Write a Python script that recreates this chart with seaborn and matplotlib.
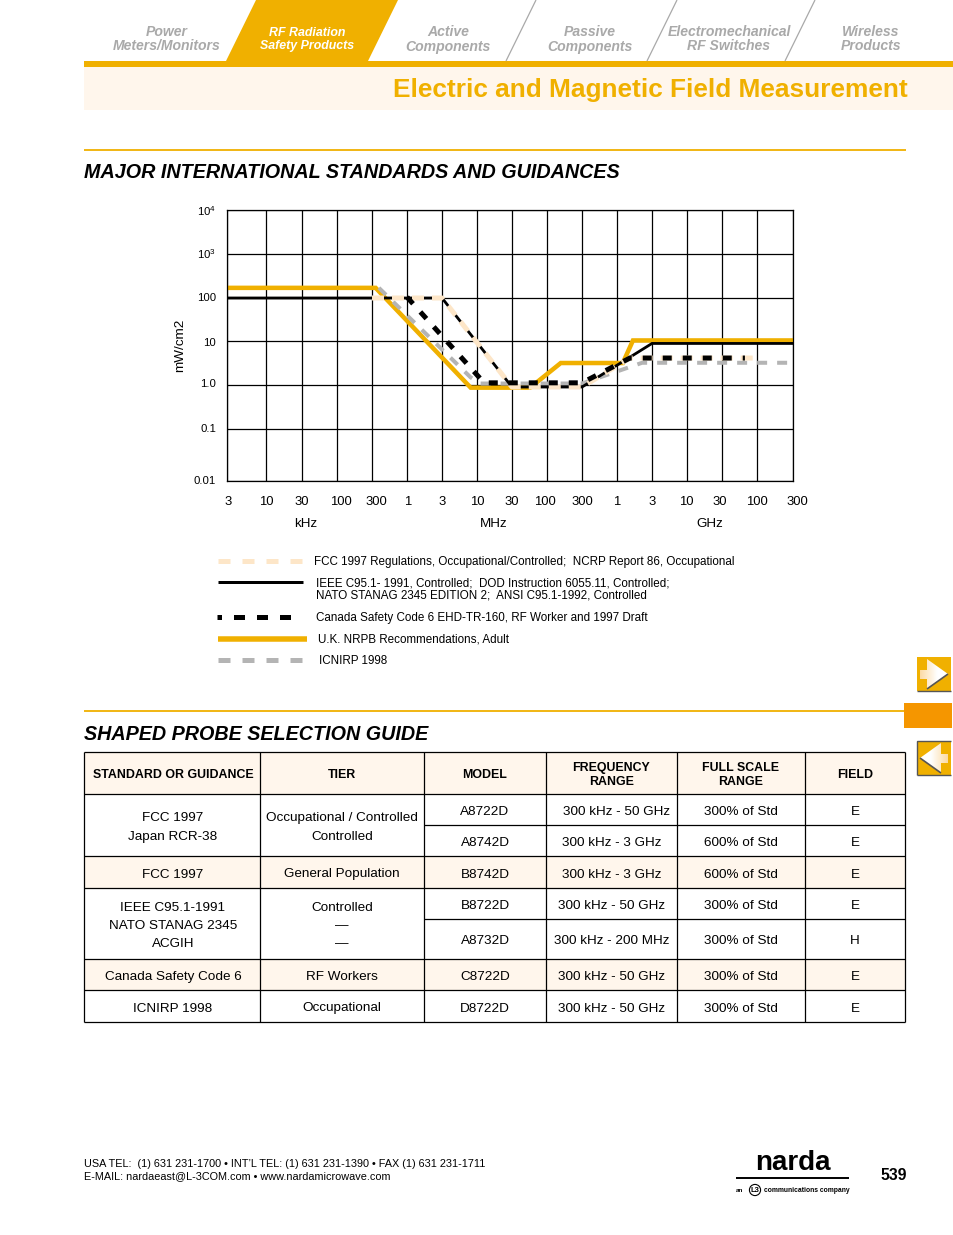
import numpy as np
import pandas as pd
import matplotlib
matplotlib.use("Agg")
import matplotlib.pyplot as plt
from matplotlib.patches import Polygon, Rectangle
from matplotlib.transforms import ScaledTranslation
import seaborn as sns

sns.set_theme(style="white")
plt.rcParams["font.family"] = ["Liberation Sans", "DejaVu Sans"]
plt.rcParams["mathtext.fontset"] = "custom"
plt.rcParams["mathtext.rm"] = "Liberation Sans"
plt.rcParams["lines.solid_capstyle"] = "butt"
plt.rcParams["lines.solid_joinstyle"] = "miter"

ORANGE = "#f0b000"
CREAM = "#fff6ec"
GREY = "#b4b4b4"
BEIGE = "#fde6c8"
TAB_GREY = "#a9a9a9"

# frequencies in kHz, limits in mW/cm2
freq_ticks = [3, 10, 30, 100, 300, 1e3, 3e3, 1e4, 3e4, 1e5, 3e5, 1e6, 3e6, 1e7, 3e7, 1e8, 3e8]
freq_labels = ["3", "10", "30", "100", "300", "1", "3", "10", "30", "100", "300", "1", "3", "10", "30", "100", "300"]
freq_label_shift = [1, 0, 0, 4, 4, 1, 0, 0, 0, -2, 0, 0, 0, -1, -2, 0, 4]
power_ticks = [0.01, 0.1, 1, 10, 100, 1e3, 1e4]
power_labels = ["0.01", "0.1", "1.0", "10", "100", r"10$^{3}$", r"10$^{4}$"]
power_label_shift = [1, 1, 2, -1, 1, 1, 0]

# the printed grid is not a true log grid, so the scales go through these
grid_x_px = [227, 266, 302, 337, 372, 407, 442, 477, 512, 547, 582, 617, 652, 687, 722, 757, 793]
grid_y_px = [481, 429, 385, 341, 298, 254, 210]

nrpb_f = [3, 340, 8050, 56000, 154000, 1.2e6, 1.65e6, 3e8]
nrpb_p = [170, 170, 0.87, 0.87, 3.16, 3.16, 10.3, 10.3]
icnirp_f = [380, 8000, 11000, 3e5, 2.2e6, 3e8]
icnirp_p = [170, 1.5, 1.08, 1.08, 3.2, 3.2]
ieee_f = [3, 3000, 3e4, 3e5, 3e6, 3e8]
ieee_p = [100, 100, 0.9, 0.9, 8.8, 8.8]
fcc_f = [300, 3000, 3e4, 3e5, 1.5e6, 8.7e7]
fcc_p = [100, 100, 0.9, 0.9, 4.1, 4.1]
canada_f = [1000, 12500, 3e5, 1.5e6, 6.6e7]
canada_p = [105, 1.12, 1.12, 4.1, 4.1]

series_names = ["U.K. NRPB", "ICNIRP", "IEEE", "FCC", "Canada"]
series_colors = [ORANGE, GREY, "black", BEIGE, "black"]
series_px = [4.5, 4, 2.8, 5, 5]
series_dash_px = [None, (10, 10), None, (12, 8), (9, 11)]

legend_texts = [
    "FCC 1997 Regulations, Occupational/Controlled;  NCRP Report 86, Occupational",
    "IEEE C95.1- 1991, Controlled;  DOD Instruction 6055.11, Controlled;",
    "NATO STANAG 2345 EDITION 2;  ANSI C95.1-1992, Controlled",
    "Canada Safety Code 6 EHD-TR-160, RF Worker and 1997 Draft",
    "U.K. NRPB Recommendations, Adult",
    "ICNIRP 1998",
]

tab_labels = [("Power", "Meters/Monitors"), ("RF Radiation", "Safety Products"), ("Active", "Components"),
              ("Passive", "Components"), ("Electromechanical", "RF Switches"), ("Wireless", "Products")]

table_header = ["STANDARD OR GUIDANCE", "TIER", "MODEL", "FREQUENCY\nRANGE", "FULL SCALE\nRANGE", "FIELD"]
models = ["A8722D", "A8742D", "B8742D", "B8722D", "A8732D", "C8722D", "D8722D"]
freq_ranges = ["300 kHz - 50 GHz", "300 kHz - 3 GHz", "300 kHz - 3 GHz", "300 kHz - 50 GHz",
               "300 kHz - 200 MHz", "300 kHz - 50 GHz", "300 kHz - 50 GHz"]
full_scale = ["300% of Std", "600% of Std", "600% of Std", "300% of Std", "300% of Std", "300% of Std", "300% of Std"]
fields = ["E", "E", "E", "E", "H", "E", "E"]
standards = ["FCC 1997\nJapan RCR-38", "FCC 1997", "IEEE C95.1-1991\nNATO STANAG 2345\nACGIH", "Canada Safety Code 6", "ICNIRP 1998"]
tiers = ["Occupational / Controlled\nControlled", "General Population", "Controlled\n—\n—", "RF Workers", "Occupational"]
merged_rows = [(0, 2), (2, 3), (3, 5), (5, 6), (6, 7)]

col_px = [84, 260, 424, 546, 677, 805, 905]
row_px = [794, 825, 856, 888, 919, 959, 990, 1022]

W, H = 954, 1235
fig = plt.figure(figsize=(W / 100, H / 100), dpi=100, facecolor="white")

# page furniture, drawn in pixel coordinates
page = fig.add_axes([0, 0, 1, 1])
page.set_xlim(0, W)
page.set_ylim(H, 0)
page.axis("off")


def ptext(x, y, s, size, ha="left", weight="normal", style="normal", color="black", **kw):
    page.text(x, y, s, fontsize=size, ha=ha, va="center", fontweight=weight, fontstyle=style, color=color, **kw)


page.add_patch(Rectangle((84, 67), W - 84, 43, fc=CREAM, ec="none"))
page.add_patch(Rectangle((84, 61), W - 84, 6, fc=ORANGE, ec="none"))
page.add_patch(Polygon([(256, 0), (398, 0), (368, 61), (226, 61)], fc=ORANGE, ec="none"))
for top, bottom in [(536, 506), (677, 647), (815, 785)]:
    page.plot([top, bottom], [0, 61], color=TAB_GREY, lw=0.9)
for cx, (a, b) in zip([167, 307, 448, 590, 729, 871], tab_labels):
    rf = a.startswith("RF")
    c = "white" if rf else TAB_GREY
    size = 8.9 if rf else 10.1
    ptext(cx, 32.5, a, size, ha="center", weight="bold", style="italic", color=c)
    ptext(cx, 46.5, b, size, ha="center", weight="bold", style="italic", color=c)
ptext(908, 89.5, "Electric and Magnetic Field Measurement", 18.9, ha="right", weight="bold", color=ORANGE)

page.plot([84, 906], [150, 150], color=ORANGE, lw=1.3)
ptext(84, 173, "MAJOR INTERNATIONAL STANDARDS AND GUIDANCES", 14.2, weight="bold", style="italic")
page.plot([84, 904], [711, 711], color=ORANGE, lw=1.3)
page.add_patch(Rectangle((904, 703), 48, 25, fc="#f59600", ec="none"))
ptext(84, 735, "SHAPED PROBE SELECTION GUIDE", 14.2, weight="bold", style="italic")

# nav buttons
grad = np.linspace(0, 1, 64).reshape(1, -1)
cmap = matplotlib.colors.LinearSegmentedColormap.from_list("b", [(0, "#fbd596"), (0.6, "white"), (1, "white")])
for x0, y0, flip in [(917, 657, False), (917, 741, True)]:
    page.add_patch(Rectangle((x0, y0), 34, 34, fc=ORANGE, ec="none"))
    shape = np.array([(3, 13), (10, 13), (10, 2), (31, 17), (10, 32), (10, 22), (3, 22)], dtype=float)
    edge = np.array([(31, 17), (10, 32)], dtype=float)
    if flip:
        shape[:, 0] = 34 - shape[:, 0]
        edge[:, 0] = 34 - edge[:, 0]
    arrow = Polygon(np.c_[shape[:, 0] + x0, shape[:, 1] + y0], fc="none", ec="none")
    page.add_patch(arrow)
    im = page.imshow(grad if not flip else grad[:, ::-1], extent=(x0, x0 + 34, y0 + 34, y0), cmap=cmap, aspect="auto", zorder=3)
    im.set_clip_path(arrow)
    page.plot(edge[:, 0] + x0, edge[:, 1] + y0, color="#555555", lw=1.2, zorder=4)
    page.plot([x0, x0 + 34], [y0 + 34, y0 + 34], color="#555555", lw=1, zorder=4)
    if flip:
        page.plot([x0, x0, x0 + 34], [y0 + 34, y0, y0], color="#555555", lw=1, zorder=4)
page.set_xlim(0, W)
page.set_ylim(H, 0)

# legend samples, order FCC, IEEE, Canada, NRPB, ICNIRP
legend_y = [561, 581.5, 617, 639, 660]
legend_x_end = [302, 303, 294, 307, 302]
for y, xe, i in zip(legend_y, legend_x_end, [3, 2, 4, 0, 1]):
    if i == 2 or i == 0:
        page.plot([218, xe], [y, y], color=series_colors[i], lw=(3 if i == 2 else 5.5) * 0.72)
    elif i == 4:
        page.plot([217, xe], [y, y], color="black", lw=3.6, linestyle=(1.3, (11 / 5, 12 / 5)))
    else:
        page.plot([218, xe], [y, y], color=series_colors[i], lw=3.6, linestyle=(0, (12 / 5, 12 / 5)))
for (x, y), s in zip([(314, 562), (316, 583), (316, 596), (316, 618.5), (318, 640), (319, 661)], legend_texts):
    ptext(x, y, s, 8.4)

# table
for i in [2, 5]:
    page.add_patch(Rectangle((84, row_px[i]), 821, row_px[i + 1] - row_px[i], fc=CREAM, ec="none"))
page.add_patch(Rectangle((84, 752), 821, 42, fc=CREAM, ec="none"))
for x in col_px:
    page.plot([x, x], [752, 1022], color="black", lw=0.9)
page.plot([84, 905], [752, 752], color="black", lw=0.9)
for i, y in enumerate(row_px):
    x0 = 84 if i not in (1, 4) else col_px[2]
    page.plot([x0, 905], [y, y], color="black", lw=0.9)
cx = [(a + b) / 2 for a, b in zip(col_px[:-1], col_px[1:])]
for j, (x, s) in enumerate(zip(cx, table_header)):
    ptext(x + (1 if j == 0 else 0), 775, s, 8.95, ha="center", weight="bold", linespacing=1.2)
for i, (m, f, s, e) in enumerate(zip(models, freq_ranges, full_scale, fields)):
    y = (row_px[i] + row_px[i + 1]) / 2 + 2.5
    for j, (x, t) in enumerate(zip(cx[2:], [m, f, s, e])):
        ptext(x + (5 if i == 0 and j == 1 else 0), y, t, 9.7, ha="center")
for (a, b), s, t in zip(merged_rows, standards, tiers):
    y = (row_px[a] + row_px[b]) / 2 + 2.5
    ptext(cx[0] + 1, y, s, 9.7, ha="center", linespacing=1.72)
    ptext(cx[1], y, t, 9.7, ha="center", linespacing=1.72)

# footer
ptext(84, 1164, "USA TEL:  (1) 631 231-1700 • INT’L TEL: (1) 631 231-1390 • FAX (1) 631 231-1711", 7.83)
ptext(84, 1176, "E-MAIL: nardaeast@L-3COM.com • www.nardamicrowave.com", 7.83)
ptext(792.5, 1163, "narda", 20, ha="center", weight="bold")
page.plot([736, 849], [1178, 1178], color="black", lw=1.4)
ptext(736, 1190, "an", 4.6, weight="bold")
ptext(755, 1190, "L3", 5.5, ha="center", weight="bold", bbox=dict(boxstyle="circle,pad=0.15", fc="white", ec="black", lw=0.8))
ptext(764, 1190, "communications company", 4.9, weight="bold")
ptext(907, 1175, "539", 11.3, ha="right", weight="bold")

# chart
ax = fig.add_axes([227 / W, 1 - 481 / H, (793 - 227) / W, (481 - 210) / H], facecolor="none")
lx = np.log10(freq_ticks)
ly = np.log10(power_ticks)
ax.set_xscale("function", functions=(lambda v: np.interp(np.log10(np.maximum(v, 1e-9)), lx, grid_x_px),
                                     lambda p: 10 ** np.interp(p, grid_x_px, lx)))
ax.set_yscale("function", functions=(lambda v: np.interp(np.log10(np.maximum(v, 1e-9)), ly, -np.array(grid_y_px)),
                                     lambda p: 10 ** np.interp(p, -np.array(grid_y_px), ly)))

frames = []
for name, f, p in zip(series_names, [nrpb_f, icnirp_f, ieee_f, fcc_f, canada_f], [nrpb_p, icnirp_p, ieee_p, fcc_p, canada_p]):
    frames.append(pd.DataFrame({"freq": f, "power": p, "standard": name}))
df = pd.concat(frames, ignore_index=True)

sns.lineplot(
    data=df, x="freq", y="power", hue="standard", style="standard", size="standard",
    hue_order=series_names, style_order=series_names, size_order=series_names,
    palette=dict(zip(series_names, series_colors)),
    sizes={n: px * 0.72 for n, px in zip(series_names, series_px)},
    dashes={n: ("" if d is None else (d[0] / px, d[1] / px)) for n, d, px in zip(series_names, series_dash_px, series_px)},
    estimator=None, sort=False, legend=False, ax=ax, clip_on=False,
)
ax.set_xlim(3, 3e8)
ax.set_ylim(0.01, 1e4)
ax.set_xticks(freq_ticks, freq_labels)
ax.set_yticks(power_ticks, power_labels)
ax.minorticks_off()
ax.grid(True, color="black", lw=0.9)
ax.set_axisbelow(True)
for s in ax.spines.values():
    s.set_color("black")
    s.set_linewidth(0.9)
ax.tick_params(axis="x", length=0, pad=11, labelsize=9.4, labelcolor="black")
ax.tick_params(axis="y", length=0, pad=8, labelsize=8.2, labelcolor="black")
for lab, dx in zip(ax.get_xticklabels(), freq_label_shift):
    lab.set_transform(lab.get_transform() + ScaledTranslation(dx / 100, 0, fig.dpi_scale_trans))
for lab, dy in zip(ax.get_yticklabels(), power_label_shift):
    lab.set_transform(lab.get_transform() + ScaledTranslation(0, dy / 100, fig.dpi_scale_trans))
ax.set_xlabel("")
ax.set_ylabel("")
ptext(306, 524, "kHz", 9.6, ha="center")
ptext(494, 524, "MHz", 9.6, ha="center")
ptext(710, 524, "GHz", 9.6, ha="center")
ptext(180, 345, "mW/cm2", 9.7, ha="center", rotation=90)

fig.savefig("out.png", dpi=100)
